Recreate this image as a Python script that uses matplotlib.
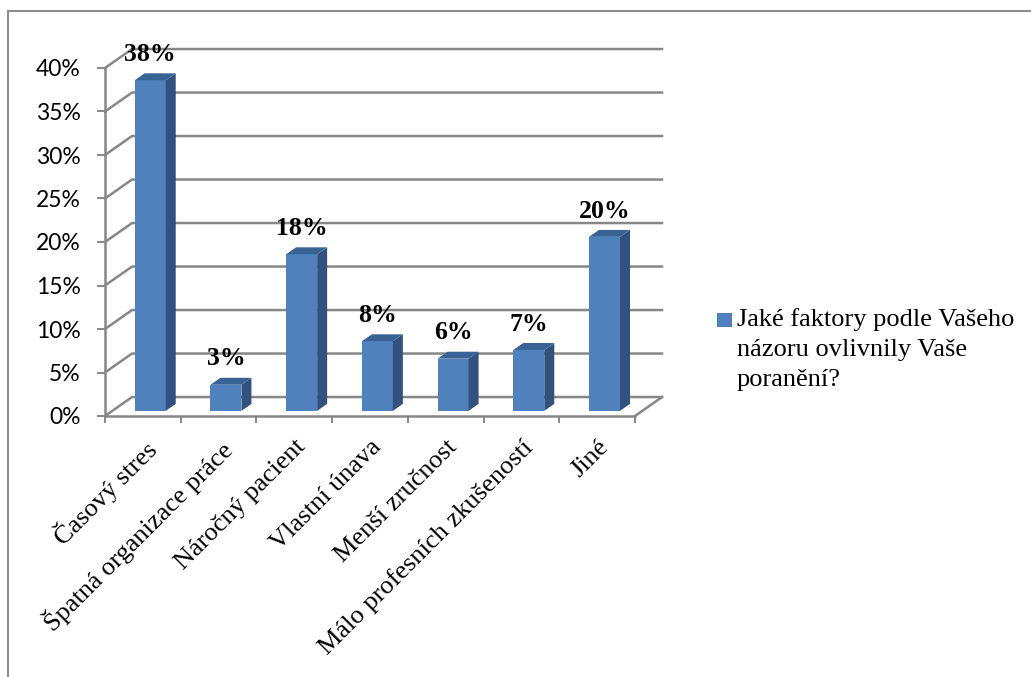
import matplotlib
matplotlib.use('Agg')
import matplotlib.pyplot as plt
from matplotlib.patches import Polygon, Rectangle
from matplotlib.lines import Line2D

categories = ['Časový stres', 'Špatná organizace práce', 'Náročný pacient',
              'Vlastní únava', 'Menší zručnost', 'Málo profesních zkušeností', 'Jiné']
values = [38, 3, 18, 8, 6, 7, 20]
y_ticks = [0, 5, 10, 15, 20, 25, 30, 35, 40]
legend_label = 'Jaké faktory podle Vašeho\nnázoru ovlivnily Vaše\nporanění?'

# fake 3D geometry (x in category units, y in percent)
wall_dx, wall_dy = 0.357, 2.18     # depth of the back wall
front_dx, front_dy = 0.097, 0.59   # where the bar front face sits
bar_dx, bar_dy = 0.132, 0.80       # bar depth
bar_w = 0.41

grid_col = '#878787'
face_col = '#4F81BD'
side_col = '#31527E'
top_col = '#3A6395'

W, H = 1031, 677
fig = plt.figure(figsize=(W / 100, H / 100), dpi=100)
ax = fig.add_axes([105 / W, 261 / H, 530 / W, 348 / H])
ax.set_xlim(0, len(categories))
ax.set_ylim(0, 40)

# side wall + back wall gridlines
n = len(categories)
for v in y_ticks:
    ax.plot([0, wall_dx, n + wall_dx], [v, v + wall_dy, v + wall_dy],
            color=grid_col, lw=1.8, clip_on=False, zorder=1)
# right edge of the floor
ax.plot([n, n + wall_dx], [0, wall_dy], color=grid_col, lw=1.8, clip_on=False, zorder=1)

for i, v in enumerate(values):
    x0 = i + 0.5 - bar_w / 2 + front_dx
    x1 = x0 + bar_w
    y0 = front_dy
    y1 = front_dy + v
    ax.add_patch(Rectangle((x0, y0), bar_w, v, facecolor=face_col,
                           edgecolor='none', clip_on=False, zorder=3))
    ax.add_patch(Polygon([(x1, y0), (x1 + bar_dx, y0 + bar_dy),
                          (x1 + bar_dx, y1 + bar_dy), (x1, y1)],
                         closed=True, facecolor=side_col, edgecolor='none',
                         clip_on=False, zorder=3))
    ax.add_patch(Polygon([(x0, y1), (x1, y1), (x1 + bar_dx, y1 + bar_dy),
                          (x0 + bar_dx, y1 + bar_dy)],
                         closed=True, facecolor=top_col, edgecolor='none',
                         clip_on=False, zorder=3))
    ax.text(x0 + bar_w / 2, y1 + bar_dy + 0.85, f'{v}%', ha='center', va='bottom',
            fontsize=18.5, fontweight='bold', family='Liberation Serif', zorder=4)

    # rotated category label under the slot
    ax.text(i + 0.5, -2.3, categories[i], rotation=45, rotation_mode='anchor',
            ha='right', va='top', fontsize=19, family='Liberation Serif', clip_on=False)

for side in ['top', 'right']:
    ax.spines[side].set_visible(False)
for side in ['left', 'bottom']:
    ax.spines[side].set_color(grid_col)
    ax.spines[side].set_linewidth(1.8)
    ax.spines[side].set_zorder(2)

ax.set_yticks(y_ticks)
ax.set_yticklabels([f'{t}%' for t in y_ticks], family=['Lato', 'DejaVu Sans'], fontsize=16.5)
ax.set_xticks(range(n + 1))
ax.set_xticklabels([])
ax.tick_params(axis='y', direction='out', length=6, width=1.4, color=grid_col, pad=11.5)
ax.tick_params(axis='x', direction='out', length=5, width=1.4, color=grid_col)
ax.patch.set_visible(False)

# legend box drawn by hand so the swatch sits on the first line
fig.patches.append(Rectangle((717 / W, 1 - 327 / H), 15 / W, 14 / H,
                             transform=fig.transFigure, facecolor=face_col,
                             edgecolor='none'))
fig.text(737 / W, 1 - 308 / H, legend_label, ha='left', va='top',
         fontsize=19, family='Liberation Serif', linespacing=1.47)

# outer frame (top and left edges)
fig.lines.append(Line2D([8 / W, 1], [1 - 11 / H, 1 - 11 / H], transform=fig.transFigure,
                        color='#8c8c8c', lw=1.5))
fig.lines.append(Line2D([8 / W, 8 / W], [0, 1 - 11 / H], transform=fig.transFigure,
                        color='#8c8c8c', lw=1.5))

fig.savefig('out.png', dpi=100)
